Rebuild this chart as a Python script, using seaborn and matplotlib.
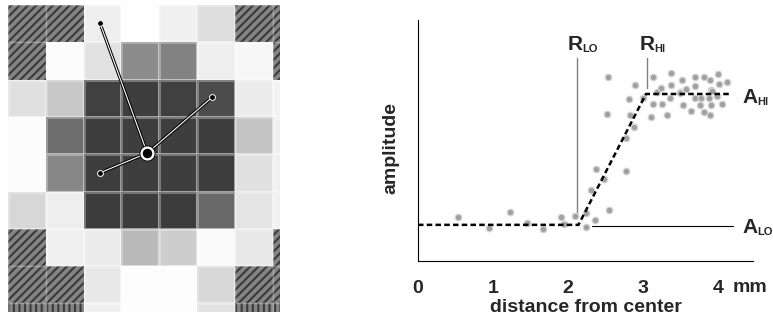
import numpy as np
import matplotlib
matplotlib.use("Agg")
import matplotlib.pyplot as plt
from matplotlib.patches import Rectangle
import seaborn as sns

# ---- left panel: pixel grid (gray level 0-255, nan = hatched cell) ----
H = np.nan
cell_gray = [
    [H,   H,   238, 254, 240, 222, H,   H],
    [H,   252, 225, 140, 130, 238, 247, H],
    [224, 200, 64,  62,  64,  76,  236, 242],
    [252, 110, 62,  62,  62,  62,  196, 240],
    [252, 135, 62,  62,  62,  62,  224, 240],
    [215, 238, 60,  60,  60,  105, 228, 240],
    [H,   240, 235, 185, 205, 250, 232, H],
    [H,   H,   232, 253, 253, 215, H,   H],
    [H,   H,   240, 253, 253, 225, H,   H],
]
hatched_diag = [(0, 0), (0, 1), (1, 0), (0, 6), (0, 7), (1, 7),
                (6, 0), (7, 0), (7, 1), (6, 7), (7, 6), (7, 7)]
hatched_vert = [(8, 0), (8, 1), (8, 6), (8, 7)]

# spokes (in cell units, x = column, y = row from top)
center = (3.68, 3.97)
spoke_x = [2.43, 5.40, 2.43]
spoke_y = [0.48, 2.47, 4.50]

# ---- right panel: amplitude vs distance ----
dist = [0.53, 0.95, 1.23, 1.45, 1.67, 1.91, 1.95, 2.10, 2.24, 2.24, 2.36, 2.31,
        2.37, 2.48, 2.55, 2.53, 2.52, 2.77, 2.78, 2.83, 2.81, 2.88, 2.90, 3.00,
        3.11, 3.14, 3.13, 3.19, 3.24, 3.25, 3.32, 3.38, 3.38, 3.36, 3.52, 3.50,
        3.54, 3.58, 3.64, 3.69, 3.70, 3.70, 3.76, 3.78, 3.81, 3.81, 3.90, 3.91,
        3.88, 3.91, 3.89, 4.00, 4.01, 3.99, 4.05, 4.12, 3.49, 3.92]
amp = [1.83, 1.38, 2.03, 1.56, 1.31, 1.84, 1.54, 1.87, 1.98, 1.41, 1.72, 2.95,
       3.83, 3.39, 2.10, 7.65, 6.09, 3.75, 5.12, 6.04, 6.71, 5.55, 7.30, 6.76,
       5.99, 7.63, 6.51, 7.03, 7.19, 6.51, 6.07, 7.79, 7.32, 6.75, 7.51, 7.03,
       6.47, 7.15, 6.22, 7.65, 7.26, 6.76, 6.47, 6.75, 7.63, 6.20, 7.51, 7.10,
       6.76, 6.49, 6.06, 7.76, 7.34, 6.85, 6.51, 7.41, 6.96, 7.07]

r_lo, r_hi = 2.14, 3.04
a_lo, a_hi = 1.5, 6.93
model_x = [0, r_lo, r_hi, 4.16]
model_y = [a_lo, a_lo, a_hi, a_hi]
xticks = [0, 1, 2, 3, 4]

sns.set_style("white")
plt.rcParams["font.family"] = ["Liberation Sans", "DejaVu Sans"]
plt.rcParams["hatch.linewidth"] = 1.5

W, Hh = 773, 329
fig = plt.figure(figsize=(W / 100, Hh / 100), dpi=100)

# left panel
ax1 = fig.add_axes([8 / W, (Hh - 312) / Hh, 272 / W, 307 / Hh])
grid = np.array(cell_gray, dtype=float)
sns.heatmap(grid, ax=ax1, cmap="gray", vmin=0, vmax=255, cbar=False,
            linewidths=1.0, linecolor=(1, 1, 1, 0.3), square=False)
for cells, pattern in [(hatched_diag, "////"), (hatched_vert, "|||")]:
    for (r, c) in cells:
        ax1.add_patch(Rectangle((c, r), 1, 1, facecolor="#848484", edgecolor="none"))
        ax1.add_patch(Rectangle((c, r), 1, 1, fill=False, hatch=pattern,
                                edgecolor="#3a3a3a", linewidth=0))
        ax1.add_patch(Rectangle((c, r), 1, 1, fill=False,
                                edgecolor=(1, 1, 1, 0.3), linewidth=1.0))
for sx, sy in zip(spoke_x, spoke_y):
    ax1.plot([center[0], sx], [center[1], sy], color="black", lw=2.3, solid_capstyle="round")
    ax1.plot([center[0], sx], [center[1], sy], color="white", lw=0.8)
    ax1.plot(sx, sy, "o", ms=4.2, color="black", mec="white", mew=0.7)
ax1.plot(*center, "o", ms=10.5, color="black")
ax1.plot(*center, "o", ms=9.2, color="white")
ax1.plot(*center, "o", ms=5.8, color="black")
ax1.set_xlim(0, 7.19)
ax1.set_ylim(8.23, 0)
ax1.set_xticks([])
ax1.set_yticks([])
ax1.set_xlabel("")
ax1.set_ylabel("")
for s in ax1.spines.values():
    s.set_visible(False)

# right panel
ax2 = fig.add_axes([418 / W, (Hh - 261) / Hh, 335 / W, 241 / Hh])
ax2.plot([r_lo - 0.02, r_lo - 0.02], [1.83, 8.42], color="#808080", lw=1.0, zorder=1)
ax2.plot([r_hi + 0.01, r_hi + 0.01], [7.18, 8.42], color="#808080", lw=1.0, zorder=1)
ax2.plot([2.32, 4.2], [a_lo - 0.03, a_lo - 0.03], color="black", lw=0.8, zorder=1)
sns.scatterplot(x=dist, y=amp, ax=ax2, color="#a0a0a0", s=22,
                edgecolor="#d4d4d4", linewidth=0.9, zorder=2)
ax2.plot(model_x, model_y, color="black", lw=1.8, dashes=(2.2, 1.3), zorder=3)

ax2.set_xlim(0, 4.467)
ax2.set_ylim(0, 10)
ax2.set_xticks(xticks)
ax2.set_xticklabels([str(t) for t in xticks], fontsize=14, fontweight="bold")
ax2.set_yticks([])
ax2.tick_params(axis="x", direction="out", length=4.5, width=0.8, pad=9.5, color="black")
sns.despine(ax=ax2)
for s in ["left", "bottom"]:
    ax2.spines[s].set_linewidth(0.8)
    ax2.spines[s].set_color("black")
ax2.text(4.19, -0.112, "mm", transform=ax2.get_xaxis_transform(),
         fontsize=14, fontweight="bold", ha="left", va="center")
ax2.set_xlabel("distance from center", fontsize=14, fontweight="bold", labelpad=1)
ax2.set_ylabel("amplitude", fontsize=14, fontweight="bold")
ax2.yaxis.set_label_coords(-0.055, 0.469)


def sublabel(x, y, main, sub):
    ax2.text(x, y, main, fontsize=15, fontweight="bold", ha="left",
             va="baseline", clip_on=False)
    ax2.annotate(sub, xy=(x, y), xycoords="data", xytext=(10.5, -1.5),
                 textcoords="offset points", fontsize=8, fontweight="bold",
                 ha="left", va="baseline", annotation_clip=False)


sublabel(2.0, 8.76, "R", "LO")
sublabel(2.96, 8.76, "R", "HI")
sublabel(4.33, 6.56, "A", "HI")
sublabel(4.33, 1.16, "A", "LO")

fig.savefig("out.png", dpi=100, facecolor="white")
